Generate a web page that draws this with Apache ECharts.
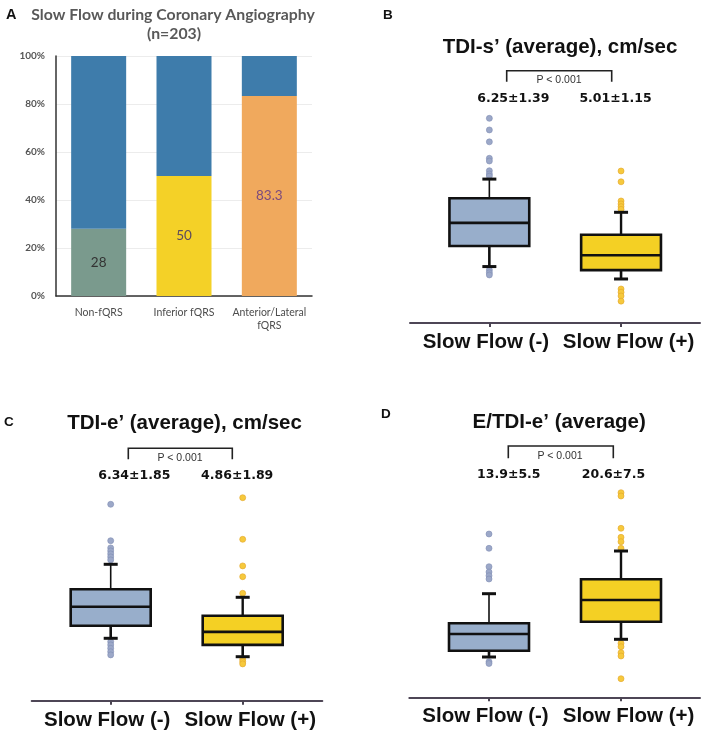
<!DOCTYPE html>
<html>
<head>
<meta charset="utf-8">
<script src="https://cdn.jsdelivr.net/npm/echarts@6/dist/echarts.min.js"></script>
<style>html,body{margin:0;padding:0;background:#fff}#c{width:709px;height:737px}</style>
</head>
<body>
<div id="c"></div>
<script>
// ---------- Panel A data ----------
const fqrsCategories = ['Non-fQRS', 'Inferior fQRS', 'Anterior/Lateral\nfQRS'];
const slowFlowPct = [28, 50, 83.3];
const noSlowFlowPct = [72, 50, 16.7];
const pctTicks = [0, 20, 40, 60, 80, 100];

// ---------- Box panels ----------
const groups = ['Slow Flow (-)', 'Slow Flow (+)'];
// [lower whisker, Q1, median, Q3, upper whisker]
const tdiS_neg = [4.59, 5.35, 6.21, 7.12, 7.83];
const tdiS_pos = [4.13, 4.46, 5.01, 5.77, 6.60];
const tdiS_outNeg = [10.08, 9.65, 9.21, 8.60, 8.50, 8.14, 8.02, 7.94, 4.46, 4.36, 4.28];
const tdiS_outPos = [8.13, 7.73, 7.02, 6.91, 6.81, 6.71, 3.76, 3.64, 3.50, 3.31];

const tdiE_neg = [4.62, 5.25, 6.20, 7.07, 8.32];
const tdiE_pos = [3.70, 4.29, 4.94, 5.75, 6.67];
const tdiE_outNeg = [11.32, 9.50, 9.14, 8.99, 8.84, 8.69, 8.54, 4.45, 4.29, 4.12, 3.95, 3.79];
const tdiE_outPos = [11.65, 9.57, 8.24, 7.70, 6.87, 3.57, 3.45, 3.34];

const eRatio_neg = [8.06, 9.32, 12.66, 14.80, 20.72];
const eRatio_pos = [11.60, 15.12, 19.46, 23.60, 29.26];
const eRatio_outNeg = [32.66, 29.80, 26.12, 25.06, 24.32, 23.66, 7.12, 6.76];
const eRatio_outPos = [40.92, 40.26, 33.80, 32.00, 31.12, 29.80, 10.80, 10.12, 8.92, 8.26, 3.72];

const meanLabels = {
  B: ['6.25\u00b11.39', '5.01\u00b11.15'],
  C: ['6.34\u00b11.85', '4.86\u00b11.89'],
  D: ['13.9\u00b15.5', '20.6\u00b17.5']
};

// ---------- styles ----------
const slowColors = ['#7A9A8D', '#F4D127', '#F0A95D'];
const slowLabelColors = ['#333333', '#5b4a5e', '#7a4a7e'];
const topBlue = '#3E7CAB';
const boxFill = ['#98AECB', '#F4D024'];
const dotFill = ['#9CA8C8', '#F6C93C'];
const dotStroke = ['#7F8DB3', '#E3A52A'];
const groupLabelPad = [[0, 7, 0, 0], [0, 0, 0, 15]];
const upperStemWidth = [1.6, 2.4];

function boxItem(i, arr) { return [i].concat(arr); }

function renderBox(fill, stemW) {
  return function (params, api) {
    const x = api.value(0);
    const lo = api.coord([x, api.value(1)]);
    const q1 = api.coord([x, api.value(2)]);
    const md = api.coord([x, api.value(3)]);
    const q3 = api.coord([x, api.value(4)]);
    const hi = api.coord([x, api.value(5)]);
    const band = api.size([1, 0])[0];
    const half = band * 0.303;
    const cap = 7;
    const cx = lo[0];
    const k = '#111';
    return {
      type: 'group',
      children: [
        {type: 'line', shape: {x1: cx, y1: q3[1], x2: cx, y2: hi[1]}, style: {stroke: k, lineWidth: stemW}},
        {type: 'line', shape: {x1: cx, y1: q1[1], x2: cx, y2: lo[1]}, style: {stroke: k, lineWidth: 2.6}},
        {type: 'line', shape: {x1: cx - cap, y1: hi[1], x2: cx + cap, y2: hi[1]}, style: {stroke: k, lineWidth: 3}},
        {type: 'line', shape: {x1: cx - cap, y1: lo[1], x2: cx + cap, y2: lo[1]}, style: {stroke: k, lineWidth: 3}},
        {type: 'rect', shape: {x: cx - half, y: q3[1], width: 2 * half, height: q1[1] - q3[1]}, style: {fill: fill, stroke: k, lineWidth: 2.6}},
        {type: 'line', shape: {x1: cx - half, y1: md[1], x2: cx + half, y2: md[1]}, style: {stroke: k, lineWidth: 2.6}}
      ]
    };
  };
}

function outlierData(i, arr) { return arr.map(v => [i, v]); }

const boxPanels = [
  {neg: tdiS_neg, pos: tdiS_pos, outNeg: tdiS_outNeg, outPos: tdiS_outPos, min: 2.5, max: 10.5,
   grid: {left: 423.5, top: 107, width: 263.4, height: 216}, lineGrid: {left: 410, top: 107, width: 290, height: 216}},
  {neg: tdiE_neg, pos: tdiE_pos, outNeg: tdiE_outNeg, outPos: tdiE_outPos, min: 1.5, max: 12.5,
   grid: {left: 44.7, top: 480.7, width: 264, height: 220}, lineGrid: {left: 31.7, top: 480.7, width: 290.6, height: 220}},
  {neg: eRatio_neg, pos: eRatio_pos, outNeg: eRatio_outNeg, outPos: eRatio_outPos, min: 0, max: 44,
   grid: {left: 423, top: 477.3, width: 264, height: 220}, lineGrid: {left: 409.3, top: 477.3, width: 290.7, height: 220}}
];

const grids = [{left: 56, top: 56, width: 256, height: 240}];
const xAxes = [{
  gridIndex: 0, type: 'category', data: fqrsCategories,
  axisLine: {lineStyle: {color: '#333', width: 1.5}}, axisTick: {show: false},
  axisLabel: {fontFamily: 'Lato', fontSize: 10.5, color: '#4d4d4d', margin: 10, lineHeight: 13, interval: 0}
}];
const yAxes = [{
  gridIndex: 0, type: 'value', min: 0, max: 100, interval: 20,
  axisLine: {show: true, lineStyle: {color: '#333', width: 1.5}}, axisTick: {show: false},
  axisLabel: {fontFamily: 'Lato', fontSize: 10, fontWeight: 'bold', color: '#555', margin: 11,
    formatter: v => pctTicks.includes(v) ? v + '%' : ''},
  splitLine: {lineStyle: {color: '#ececec', width: 1}}
}];
const series = [
  {type: 'bar', stack: 'a', xAxisIndex: 0, yAxisIndex: 0, barWidth: 55,
   data: slowFlowPct.map((v, i) => ({value: v, itemStyle: {color: slowColors[i]}, label: {color: slowLabelColors[i]}})),
   label: {show: true, position: 'inside', fontFamily: 'Lato', fontSize: 13.5, formatter: '{c}'}},
  {type: 'bar', stack: 'a', xAxisIndex: 0, yAxisIndex: 0, barWidth: 55,
   data: noSlowFlowPct, itemStyle: {color: topBlue}}
];

boxPanels.forEach((p, n) => {
  const gi = grids.length;
  grids.push(p.grid);
  grids.push(p.lineGrid);
  xAxes.push({
    gridIndex: gi, type: 'category',
    data: groups.map((g, i) => ({value: g, textStyle: {padding: groupLabelPad[i]}})),
    axisLine: {show: false},
    axisTick: {show: true, alignWithLabel: true, length: 4, lineStyle: {color: '#4a4452', width: 2}},
    axisLabel: {fontFamily: 'Liberation Sans, Arial', fontWeight: 'bold', fontSize: 20.5, color: '#111', margin: 9, interval: 0}
  });
  yAxes.push({gridIndex: gi, type: 'value', min: p.min, max: p.max, show: false, splitLine: {show: false}});
  xAxes.push({
    gridIndex: gi + 1, type: 'value', min: 0, max: 1,
    axisLine: {show: true, onZero: false, lineStyle: {color: '#4e4656', width: 2}},
    axisTick: {show: false}, axisLabel: {show: false}, splitLine: {show: false}
  });
  yAxes.push({gridIndex: gi + 1, type: 'value', min: 0, max: 1, show: false, splitLine: {show: false}});
  const xi = xAxes.length - 2, yi = yAxes.length - 2;
  [p.neg, p.pos].forEach((b, i) => {
    series.push({type: 'scatter', xAxisIndex: xi, yAxisIndex: yi, symbolSize: 6, z: 3,
      data: outlierData(i, i === 0 ? p.outNeg : p.outPos),
      itemStyle: {color: dotFill[i], borderColor: dotStroke[i], borderWidth: 0.6, opacity: 1}});
    series.push({type: 'custom', xAxisIndex: xi, yAxisIndex: yi, z: 4,
      renderItem: renderBox(boxFill[i], upperStemWidth[i]), data: [boxItem(i, b)], encode: {x: 0, y: [1, 2, 3, 4, 5]}});
  });
});

function txt(x, y, text, font, fill, align) {
  return {type: 'text', x: x, y: y, z: 10, style: {text: text, font: font, fill: fill || '#111',
    textAlign: align || 'center', textVerticalAlign: 'middle'}};
}
function bracket(x1, x2, yTop, yBot) {
  return {type: 'polyline', z: 10, shape: {points: [[x1, yBot], [x1, yTop], [x2, yTop], [x2, yBot]]},
    style: {stroke: '#222', lineWidth: 1.6, fill: null}};
}
const letterFont = 'bold 13.5px "Liberation Sans", Arial';
const titleFont = 'bold 20.5px "Liberation Sans", Arial';
const meanFont = 'bold 12.5px "DejaVu Sans"';
const pFont = '10.5px "Liberation Sans", Arial';
const titleAFont = 'bold 15.8px Lato';

const graphics = [
  txt(6, 15, 'A', 'bold 14.5px "Liberation Sans", Arial', '#111', 'left'),
  txt(173, 15, 'Slow Flow during Coronary Angiography', titleAFont, '#595959'),
  txt(174, 34, '(n=203)', titleAFont, '#595959'),
  txt(383, 15, 'B', letterFont, '#111', 'left'),
  txt(560, 47, 'TDI-s\u2019 (average), cm/sec', titleFont, '#111'),
  bracket(506.7, 611.7, 70.7, 81.7),
  txt(559, 80, 'P < 0.001', pFont, '#333'),
  txt(513.3, 98.5, meanLabels.B[0], meanFont, '#111'),
  txt(615.5, 98.5, meanLabels.B[1], meanFont, '#111'),
  txt(4, 422, 'C', letterFont, '#111', 'left'),
  txt(184.5, 423, 'TDI-e\u2019 (average), cm/sec', titleFont, '#111'),
  bracket(128.3, 232.3, 448.3, 459.3),
  txt(180, 457.7, 'P < 0.001', pFont, '#333'),
  txt(134.3, 476, meanLabels.C[0], meanFont, '#111'),
  txt(237.2, 476, meanLabels.C[1], meanFont, '#111'),
  txt(381, 414, 'D', letterFont, '#111', 'left'),
  txt(559.2, 422, 'E/TDI-e\u2019 (average)', titleFont, '#111'),
  bracket(508.3, 613.3, 446, 458.3),
  txt(560, 456, 'P < 0.001', pFont, '#333'),
  txt(508.8, 474.3, meanLabels.D[0], meanFont, '#111'),
  txt(613.5, 474.3, meanLabels.D[1], meanFont, '#111')
];

const chart = echarts.init(document.getElementById('c'), null, {renderer: 'canvas'});
chart.setOption({
  animation: false,
  backgroundColor: '#ffffff',
  grid: grids,
  xAxis: xAxes,
  yAxis: yAxes,
  series: series,
  graphic: graphics
});
</script>
</body>
</html>
